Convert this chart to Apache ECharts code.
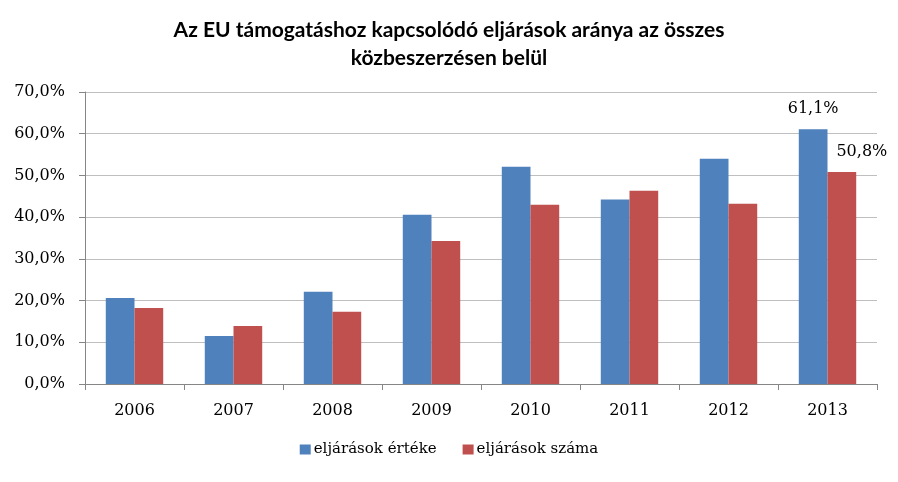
<!DOCTYPE html>
<html>
<head>
	<meta http-equiv="Content-Type" content="text/html;charset=utf-8">
	<title>EU támogatás</title>
	<style>
	html, body { margin: 0; padding: 0; background: #fff; }
	#chart { width: 898px; height: 482px; }
	</style>
</head>
<body>
<div id="chart"></div>
<script src="https://cdn.jsdelivr.net/npm/echarts@6/dist/echarts.min.js"></script>
<script>
	// adatok
	var years = ['2006', '2007', '2008', '2009', '2010', '2011', '2012', '2013'];
	var ertek = [20.6, 11.5, 22.1, 40.6, 52.1, 44.2, 54.0, 61.1];
	var szam = [18.2, 13.9, 17.3, 34.3, 43.0, 46.3, 43.2, 50.8];
	var seriesNames = ['eljárások értéke', 'eljárások száma'];
	var yTicks = [0, 10, 20, 30, 40, 50, 60, 70];

	var bodyFont = '"DejaVu Serif", serif';

	function pct(v) {
		return v.toFixed(1).replace('.', ',') + '%';
	}

	// csak az utolsó év kap címkét
	function withLastLabel(arr, offset) {
		return arr.map(function (v, i) {
			if (i != arr.length - 1) return v;
			return {
				value: v,
				label: {
					show: true,
					position: 'top',
					offset: offset,
					formatter: function (p) { return pct(p.value); },
					fontFamily: bodyFont,
					fontSize: 16,
					color: '#000'
				}
			};
		});
	}

	var option = {
		animation: false,
		title: {
			text: 'Az EU támogatáshoz kapcsolódó eljárások aránya az összes\nközbeszerzésen belül',
			left: 'center',
			top: 11,
			textStyle: {
				fontFamily: 'Lato, sans-serif',
				fontWeight: 'bold',
				fontSize: 21,
				lineHeight: 28,
				color: '#000'
			}
		},
		legend: {
			data: seriesNames,
			bottom: 20,
			left: 'center',
			icon: 'rect',
			itemWidth: 11,
			itemHeight: 10,
			itemGap: 26,
			textStyle: { fontFamily: bodyFont, fontSize: 15, color: '#000', padding: [0, 0, 0, -2] }
		},
		grid: { left: 85, right: 21, top: 92, bottom: 98 },
		xAxis: {
			type: 'category',
			data: years,
			axisLine: { lineStyle: { color: '#868686' } },
			axisTick: { show: true, length: 6, lineStyle: { color: '#868686' } },
			axisLabel: { fontFamily: bodyFont, fontSize: 16, color: '#000', margin: 19 }
		},
		yAxis: {
			type: 'value',
			min: yTicks[0],
			max: yTicks[yTicks.length - 1],
			interval: 10,
			axisLine: { show: true, lineStyle: { color: '#868686' } },
			axisTick: { show: true, length: 6, lineStyle: { color: '#868686' } },
			splitLine: { lineStyle: { color: '#BFBFBF' } },
			axisLabel: {
				fontFamily: bodyFont, fontSize: 16, color: '#000', margin: 20,
				formatter: function (v) { return pct(v); }
			}
		},
		series: [
			{
				name: seriesNames[0],
				type: 'bar',
				data: withLastLabel(ertek, [0, -7]),
				itemStyle: { color: '#4F81BD' },
				barGap: '0%',
				barCategoryGap: '42%'
			},
			{
				name: seriesNames[1],
				type: 'bar',
				data: withLastLabel(szam, [20, -7]),
				itemStyle: { color: '#C0504D' },
				barGap: '0%',
				barCategoryGap: '42%'
			}
		]
	};

	var myChart = echarts.init(document.getElementById('chart'));
	myChart.setOption(option);
</script>
</body>
</html>
